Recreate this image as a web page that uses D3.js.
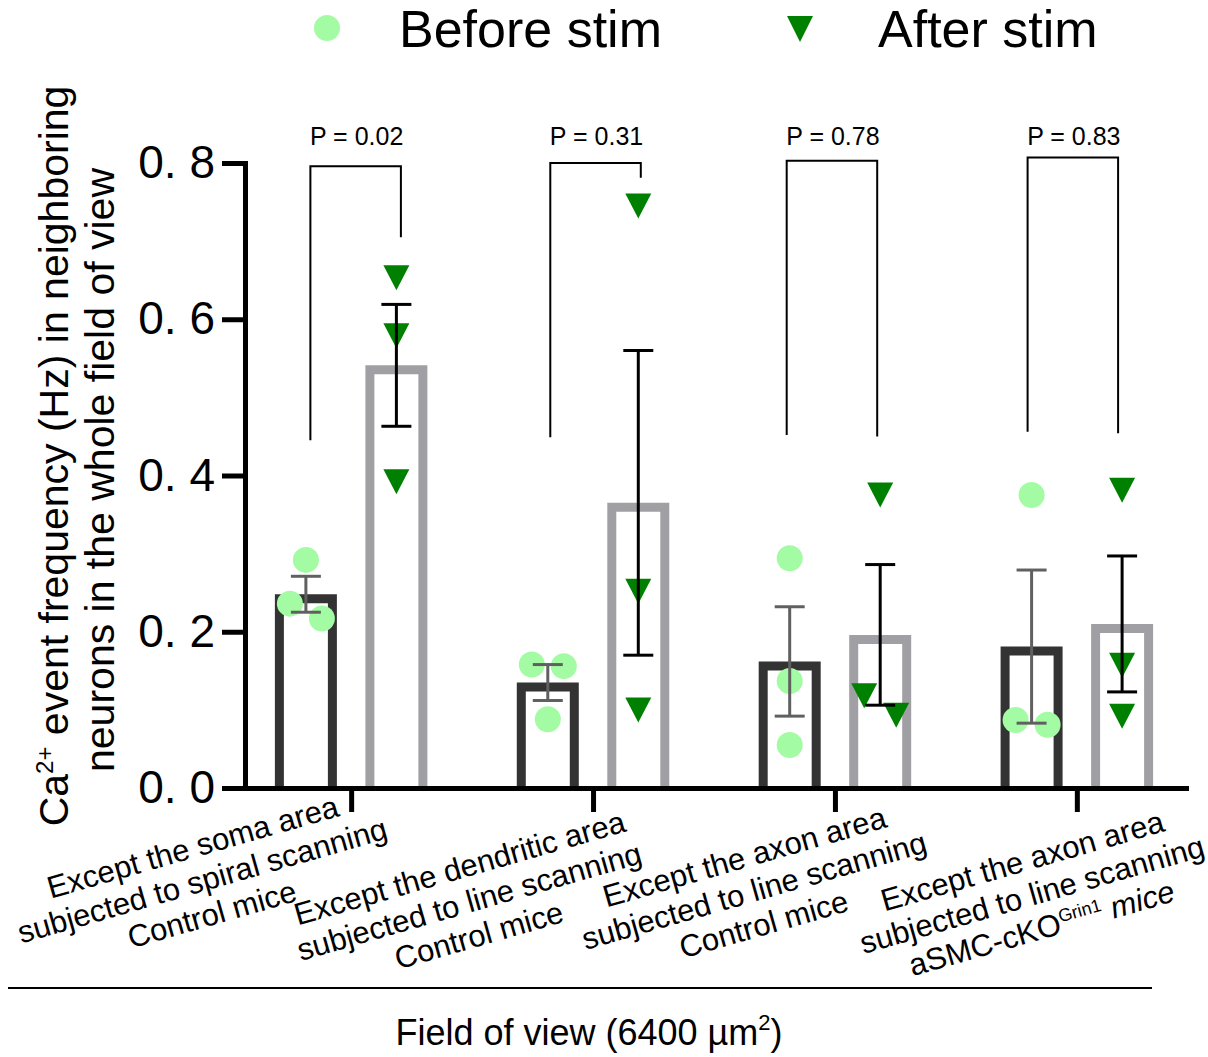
<!DOCTYPE html>
<html>
<head>
<meta charset="utf-8">
<script src="https://cdn.jsdelivr.net/npm/d3@7"></script>
<style>
  body { margin: 0; background: #fff; }
  text { font-family: "Liberation Sans", Arial, sans-serif; fill: #000; }
</style>
</head>
<body>
<script>
// groups along the x axis
var groups = ["soma", "dendrite", "axon", "axonKO"];
var series = ["Before stim", "After stim"];

// individual animals (Hz)
var beforeValues = [[0.292, 0.236, 0.217], [0.158, 0.156, 0.088], [0.294, 0.137, 0.055], [0.375, 0.087, 0.081]];
var afterValues = [[0.653, 0.579, 0.392], [0.745, 0.252, 0.100], [0.375, 0.118, 0.093], [0.381, 0.157, 0.092]];

// bar heights and SEM
var beforeMean = [0.248, 0.135, 0.162, 0.181];
var beforeSem = [0.023, 0.023, 0.070, 0.098];
var afterMean = [0.541, 0.365, 0.196, 0.210];
var afterSem = [0.078, 0.195, 0.090, 0.087];

// paired test annotations
var pLabels = ["P = 0.02", "P = 0.31", "P = 0.78", "P = 0.83"];
var bracketTop = [0.796, 0.800, 0.803, 0.807];
var bracketLeftEnd = [0.445, 0.449, 0.452, 0.456];
var bracketRightEnd = [0.705, 0.781, 0.450, 0.454];

var yTicks = [0, 0.2, 0.4, 0.6, 0.8];

// x tick labels, one array of segments per line
var tickLabels = [
    [[{t: "Except the soma area"}], [{t: "subjected to spiral scanning"}], [{t: "Control mice"}]],
    [[{t: "Except the dendritic area"}], [{t: "subjected to line scanning"}], [{t: "Control mice"}]],
    [[{t: "Except the axon area"}], [{t: "subjected to line scanning"}], [{t: "Control mice"}]],
    [[{t: "Except the axon area"}], [{t: "subjected to line scanning"}],
     [{t: "aSMC-cKO"}, {t: "Grin1", sup: true}, {t: " mice", it: true}]]
];

// ---- layout ----
var width = 1208, height = 1057;
var x0 = 245, x1 = 1186;
var yBottom = 788, yTop = 163;
var spread = [[0, -1, 1], [-1, 1, 0], [0, 0, 0], [0, -1, 1]];   // sideways nudge of overlapping dots
var afterSpread = [[0, 0, 0], [0, 0, 0], [0, -1, 1], [0, 0, 0]];
var labelShift = [[-147, 99], [-122, 120], [-79, 109], [-43, 113]];
var bracketNudge = [4.5, 2.5, -3, -4];

var lightGreen = "#a3fca3", darkGreen = "#008000";
var barColors = ["#333333", "#a0a0a4"];
var errColors = ["#606060", "#000000"];

var svg = d3.select("body").append("svg")
    .attr("width", width)
    .attr("height", height);

var x = d3.scalePoint()
    .domain(groups)
    .range([x0, x1])
    .padding(0.445)
    .align(0.493);

var xSub = d3.scaleBand()
    .domain(series)
    .range([-76.25, 76.25])
    .paddingInner(0.315)
    .paddingOuter(0);

var y = d3.scaleLinear()
    .domain([0, 0.8])
    .range([yBottom, yTop]);

var barW = 9;

function triangle(cx, cy, w, h) {
    return "M" + (cx - w / 2) + "," + (cy - h / 2) + "L" + (cx + w / 2) + "," + (cy - h / 2) + "L" + cx + "," + (cy + h / 2) + "Z";
}

var rows = groups.map(function(g, i) {
    return [
        {g: g, i: i, s: series[0], k: 0, mean: beforeMean[i], sem: beforeSem[i], pts: beforeValues[i], sp: spread[i]},
        {g: g, i: i, s: series[1], k: 1, mean: afterMean[i], sem: afterSem[i], pts: afterValues[i], sp: afterSpread[i]}
    ];
});
var flat = [].concat.apply([], rows);

function cx(d) { return x(d.g) + xSub(d.s) + xSub.bandwidth() / 2; }

// bars: open outline, stroke kept inside the band
svg.append("g")
    .selectAll("path")
    .data(flat)
    .enter()
    .append("path")
    .attr("fill", "#fff")
    .attr("stroke", function(d) { return barColors[d.k]; })
    .attr("stroke-width", barW)
    .attr("stroke-linejoin", "miter")
    .attr("d", function(d) {
        var l = x(d.g) + xSub(d.s) + barW / 2,
            r = l + xSub.bandwidth() - barW,
            t = y(d.mean) + barW / 2;
        return "M" + l + "," + yBottom + "V" + t + "H" + r + "V" + yBottom;
    });

// individual points
var dots = [];
flat.forEach(function(d) {
    d.pts.forEach(function(v, j) { dots.push({row: d, v: v, off: d.sp[j] * 16}); });
});

svg.append("g")
    .selectAll("circle")
    .data(dots.filter(function(p) { return p.row.k === 0; }))
    .enter()
    .append("circle")
    .attr("cx", function(p) { return cx(p.row) + p.off; })
    .attr("cy", function(p) { return y(p.v); })
    .attr("r", 13)
    .attr("fill", lightGreen);

svg.append("g")
    .selectAll("path")
    .data(dots.filter(function(p) { return p.row.k === 1; }))
    .enter()
    .append("path")
    .attr("d", function(p) { return triangle(cx(p.row) + p.off, y(p.v), 26, 25); })
    .attr("fill", darkGreen);

// error bars (mean +/- SEM)
var err = svg.append("g")
    .selectAll("g")
    .data(flat)
    .enter()
    .append("g")
    .attr("stroke", function(d) { return errColors[d.k]; })
    .attr("stroke-width", 3)
    .attr("fill", "none");

err.append("line")
    .attr("x1", cx).attr("x2", cx)
    .attr("y1", function(d) { return y(d.mean - d.sem); })
    .attr("y2", function(d) { return y(d.mean + d.sem); });
err.append("line")
    .attr("x1", function(d) { return cx(d) - 15; }).attr("x2", function(d) { return cx(d) + 15; })
    .attr("y1", function(d) { return y(d.mean + d.sem); })
    .attr("y2", function(d) { return y(d.mean + d.sem); });
err.append("line")
    .attr("x1", function(d) { return cx(d) - 15; }).attr("x2", function(d) { return cx(d) + 15; })
    .attr("y1", function(d) { return y(d.mean - d.sem); })
    .attr("y2", function(d) { return y(d.mean - d.sem); });

// axes
var yAxis = svg.append("g")
    .attr("transform", "translate(" + x0 + ",0)")
    .call(d3.axisLeft(y)
        .tickValues(yTicks)
        .tickSize(23)
        .tickSizeOuter(0)
        .tickPadding(7)
        .tickFormat(function(d) { return d.toFixed(1).replace(".", ". "); }));
yAxis.selectAll("path, line").attr("stroke", "#000").attr("stroke-width", 5);
yAxis.select(".domain").attr("stroke-linecap", "square");
yAxis.selectAll("text")
    .style("font-family", "'Liberation Sans', Arial, sans-serif")
    .style("font-size", "46px")
    .attr("fill", "#000");

var xAxis = svg.append("g")
    .attr("transform", "translate(0," + yBottom + ")")
    .call(d3.axisBottom(x)
        .tickSize(24)
        .tickSizeOuter(0)
        .tickFormat(""));
xAxis.selectAll("path, line").attr("stroke", "#000").attr("stroke-width", 5);
xAxis.select(".domain").attr("stroke-linecap", "square");

// significance brackets
var br = svg.append("g")
    .selectAll("g")
    .data(groups)
    .enter()
    .append("g");

br.append("path")
    .attr("fill", "none")
    .attr("stroke", "#000")
    .attr("stroke-width", 2)
    .attr("d", function(g, i) {
        var l = cx(rows[i][0]) + bracketNudge[i], r = cx(rows[i][1]) + bracketNudge[i];
        return "M" + l + "," + y(bracketLeftEnd[i]) + "V" + y(bracketTop[i]) + "H" + r + "V" + y(bracketRightEnd[i]);
    });

br.append("text")
    .attr("x", function(g, i) { return (cx(rows[i][0]) + cx(rows[i][1])) / 2 + bracketNudge[i] + 1; })
    .attr("y", y(0.8) - 18)
    .attr("text-anchor", "middle")
    .style("font-size", "25px")
    .text(function(g, i) { return pLabels[i]; });

// x tick labels, tilted
var lab = svg.append("g")
    .selectAll("g")
    .data(groups)
    .enter()
    .append("g")
    .attr("transform", function(g, i) {
        return "translate(" + (x(g) + labelShift[i][0]) + "," + (yBottom + labelShift[i][1]) + ") rotate(-16)";
    });

lab.each(function(g, i) {
    var node = d3.select(this);
    tickLabels[i].forEach(function(line, j) {
        var t = node.append("text")
            .attr("y", -31 + j * 35)
            .attr("text-anchor", "middle")
            .style("font-size", "31px");
        var raised = false;
        line.forEach(function(seg) {
            var sp = t.append("tspan").text(seg.t);
            if (seg.sup) {
                sp.style("font-size", "18px").attr("dy", -11);
                raised = true;
            } else if (raised) {
                sp.attr("dy", 11);
                raised = false;
            }
            if (seg.it) sp.style("font-style", "italic");
        });
    });
});

// y axis title
var yTitle = svg.append("g");
var t1 = yTitle.append("text")
    .attr("transform", "translate(68,456) rotate(-90)")
    .attr("text-anchor", "middle")
    .style("font-size", "41px");
t1.append("tspan").text("Ca");
t1.append("tspan").text("2+").style("font-size", "24px").attr("dy", -15);
t1.append("tspan").text(" event frequency (Hz) in neighboring").attr("dy", 15);

yTitle.append("text")
    .attr("transform", "translate(114,470) rotate(-90)")
    .attr("text-anchor", "middle")
    .style("font-size", "41px")
    .text("neurons in the whole field of view");

// bottom rule and x title
svg.append("line")
    .attr("x1", 8).attr("x2", 1152)
    .attr("y1", 988).attr("y2", 988)
    .attr("stroke", "#000")
    .attr("stroke-width", 2);

var xt = svg.append("text")
    .attr("x", 589)
    .attr("y", 1045)
    .attr("text-anchor", "middle")
    .style("font-size", "36px");
xt.append("tspan").text("Field of view (6400 \u00b5m");
xt.append("tspan").text("2").style("font-size", "22px").attr("dy", -15);
xt.append("tspan").text(")").attr("dy", 15);

// legend
var legend = svg.append("g");
legend.append("circle")
    .attr("cx", 327).attr("cy", 28).attr("r", 13)
    .attr("fill", lightGreen);
legend.append("text")
    .attr("x", 399).attr("y", 47)
    .style("font-size", "52px")
    .text(series[0]);
legend.append("path")
    .attr("d", triangle(800, 29, 26, 26))
    .attr("fill", darkGreen);
legend.append("text")
    .attr("x", 878).attr("y", 47)
    .style("font-size", "52px")
    .text(series[1]);
</script>
</body>
</html>
